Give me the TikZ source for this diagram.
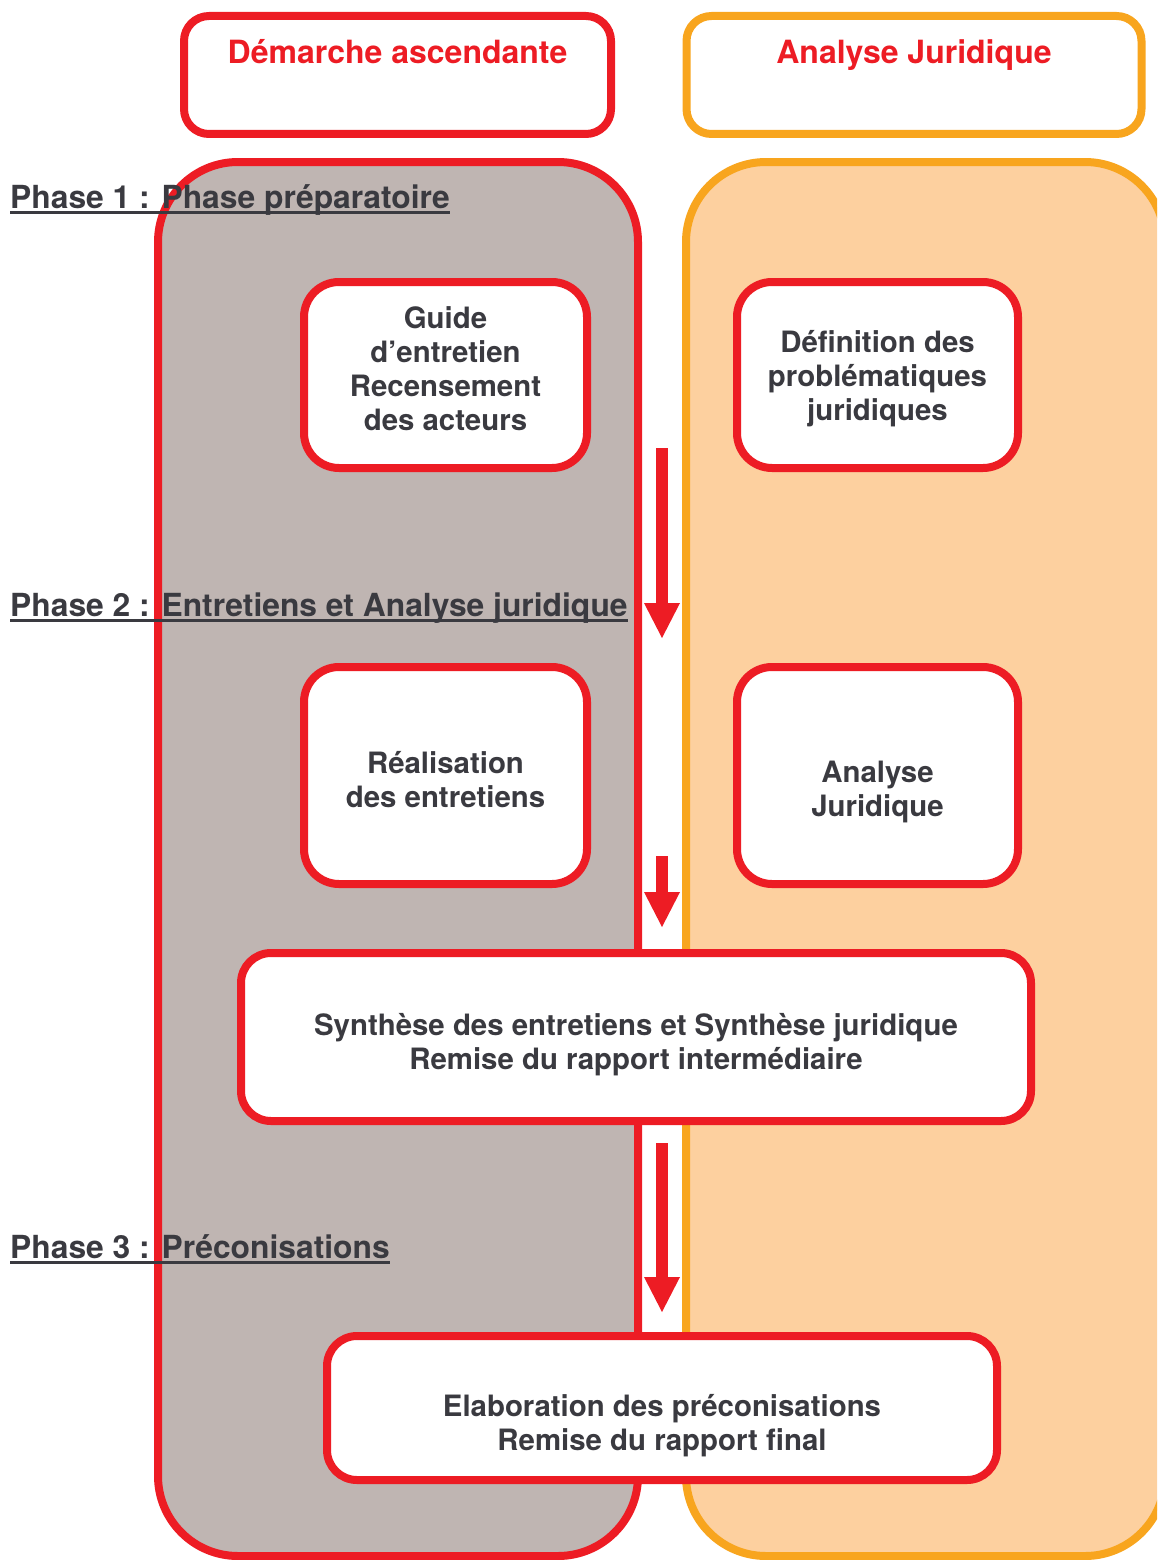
\documentclass[tikz,border=0pt]{standalone}
\usepackage{fontspec}
\setmainfont{TeX Gyre Heros}
\usetikzlibrary{arrows.meta}
\definecolor{myred}{HTML}{ED1C24}
\definecolor{myorange}{HTML}{F8A51E}
\definecolor{lanegrey}{HTML}{BFB5B2}
\definecolor{lanepeach}{HTML}{FDD09F}
\definecolor{txtgrey}{HTML}{3A3A40}
\begin{document}
\begin{tikzpicture}[x=1pt,y=-1pt,
  lane/.style={line width=8pt, rounded corners=80pt},
  headbox/.style={draw, line width=8pt, fill=white, rounded corners=25pt, inner sep=0pt, minimum height=118pt},
  headtxt/.style={anchor=base, inner sep=0pt, text=myred, font=\fontsize{32}{38}\selectfont\bfseries},
  box/.style={draw=myred, line width=8pt, fill=white, rounded corners=35pt, inner sep=0pt},
  widebox/.style={box, rounded corners=30pt},
  boxtxt/.style={align=center, inner sep=0pt, text=txtgrey, font=\fontsize{29.4}{34}\selectfont\bfseries},
  phase/.style={anchor=base west, inner sep=0pt, text=txtgrey, font=\fontsize{31.8}{38}\selectfont\bfseries},
  uline/.style={draw=txtgrey, line width=3pt},
  flow/.style={draw=myred, line width=12pt, -{Triangle[width=36pt,length=35pt,line width=0pt]}}
]
\useasboundingbox (0,0) rectangle (1157,1560);
\clip (0,0) rectangle (1157,1560);

% lanes
\draw[lane, draw=myred, fill=lanegrey] (158,162) rectangle (638,1556);
\draw[lane, draw=myorange, fill=lanepeach] (686,162) rectangle (1165,1556);

% header boxes
\node[headbox, draw=myred, minimum width=427pt] (hL) at (397.5,75) {};
\node[headtxt] (hLt) at (397.5,64) {Démarche ascendante};
\node[headbox, draw=myorange, minimum width=455pt] (hR) at (914,75) {};
\node[headtxt] (hRt) at (914,64) {Analyse Juridique};

% arrows
\coordinate (a1s) at (662,448);
\coordinate (a1e) at (662,638);
\coordinate (a2s) at (662,856);
\coordinate (a2e) at (662,927);
\coordinate (a3s) at (662,1143);
\coordinate (a3e) at (662,1312);
\draw[flow] (a1s) -- (a1e);
\draw[flow] (a2s) -- (a2e);
\draw[flow] (a3s) -- (a3e);

% boxes
\node[box, minimum width=283pt, minimum height=186pt] (guide) at (445.5,375) {};
\node[boxtxt] (guideT) at ([yshift=6pt]guide.center) {Guide\\d’entretien\\Recensement\\des acteurs};

\node[box, minimum width=281pt, minimum height=186pt] (defi) at (877.5,375) {};
\node[boxtxt] (defiT) at ([yshift=-4pt]defi.center) {Définition des\\problématiques\\juridiques};

\node[box, minimum width=283pt, minimum height=217pt] (real) at (445.5,775.5) {};
\node[boxtxt] (realT) at ([yshift=-4pt]real.center) {Réalisation\\des entretiens};

\node[box, minimum width=281pt, minimum height=217pt] (anaj) at (877.5,775.5) {};
\node[boxtxt] (anajT) at ([yshift=-16pt]anaj.center) {Analyse\\Juridique};

\node[widebox, minimum width=790pt, minimum height=168pt] (synth) at (636,1037) {};
\node[boxtxt] (synthT) at ([yshift=-7.5pt]synth.center) {Synthèse des entretiens et Synthèse juridique\\Remise du rapport intermédiaire};

\node[widebox, minimum width=670pt, minimum height=144pt] (elab) at (662,1408) {};
\node[boxtxt] (elabT) at ([yshift=-18pt]elab.center) {Elaboration des préconisations\\Remise du rapport final};

% phase labels
\node[phase] (ph1) at (10,208) {Phase 1 : Phase préparatoire};
\draw[uline] ([yshift=-4.5pt]ph1.base west) -- ([yshift=-4.5pt]ph1.base east);
\node[phase] (ph2) at (10,616) {Phase 2 : Entretiens et Analyse juridique};
\draw[uline] ([yshift=-4.5pt]ph2.base west) -- ([yshift=-4.5pt]ph2.base east);
\node[phase] (ph3) at (10,1258) {Phase 3 : Préconisations};
\draw[uline] ([yshift=-4.5pt]ph3.base west) -- ([yshift=-4.5pt]ph3.base east);
\end{tikzpicture}
\end{document}
